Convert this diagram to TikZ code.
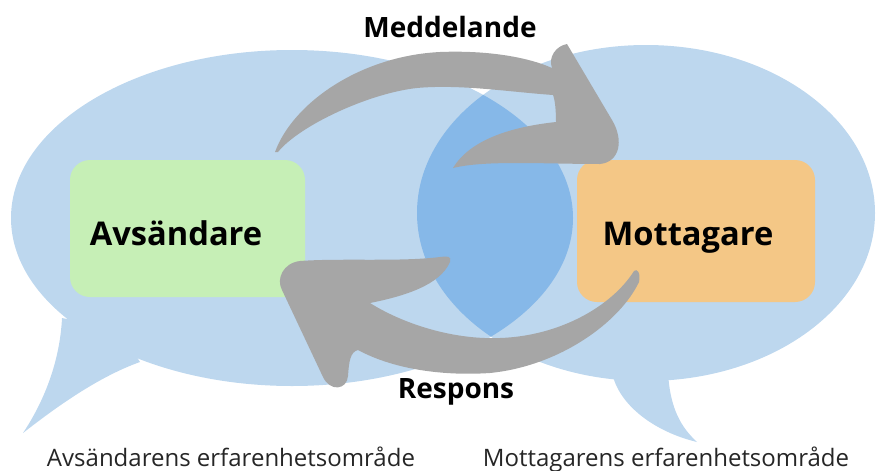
\documentclass[tikz,border=0pt]{standalone}
\usepackage{fontspec}
\setmainfont{Open Sans}
\definecolor{bubble}{HTML}{BDD7EE}
\definecolor{lensblue}{HTML}{86B8E8}
\definecolor{arrowgrey}{HTML}{A6A6A6}
\definecolor{boxgreen}{HTML}{C6EFB6}
\definecolor{boxorange}{HTML}{F4C786}
\tikzset{
  bigname/.style={font=\fontsize{24.5}{28}\selectfont\bfseries, inner sep=0pt, anchor=base, text=black},
  flowname/.style={font=\fontsize{21}{25}\selectfont\bfseries, inner sep=0pt, anchor=base, text=black},
  caption/.style={font=\fontsize{18}{22}\selectfont, inner sep=0pt, anchor=base, text=black!85},
}
\begin{document}
\begin{tikzpicture}[x=0.75pt,y=-0.75pt]
\useasboundingbox (0,0) rectangle (878,471);
% bubbles
\fill[bubble] (292,218) ellipse [x radius=210.75pt, y radius=126pt];
\fill[bubble] (646,213) ellipse [x radius=171.75pt, y radius=126pt];
\fill[bubble] (62,318) .. controls (60,360) and (45,400) .. (23,433)
  .. controls (50,412) and (95,378) .. (140,362) -- (120,330) -- cycle;
\fill[bubble] (612,372) .. controls (618,405) and (655,432) .. (697,442)
  .. controls (682,428) and (670,410) .. (668,372) -- cycle;
% overlap lens
\begin{scope}
  \clip (292,218) ellipse [x radius=210.75pt, y radius=126pt];
  \fill[lensblue] (646,213) ellipse [x radius=171.75pt, y radius=126pt];
\end{scope}
% boxes
\fill[boxgreen, rounded corners=15pt] (70,160) rectangle (305,297);
\fill[boxorange, rounded corners=15pt] (577,160) rectangle (815,302);
% top arrow (Meddelande)
\fill[arrowgrey] (275,152) .. controls (293,103) and (360,56) .. (440,52)
  .. controls (490,50) and (530,58) .. (552,68)
  .. controls (548,57) and (556,46) .. (567,44)
  -- (612,120) .. controls (624,140) and (620,162) .. (600,164)
  .. controls (545,164) and (485,160) .. (453,168)
  .. controls (470,140) and (510,127) .. (556,122)
  .. controls (556,110) and (555,100) .. (553,95)
  .. controls (510,92) and (460,84) .. (417,88)
  .. controls (370,93) and (300,125) .. (278,152) -- cycle;
% bottom arrow (Respons)
\fill[arrowgrey] (634,271) .. controls (612,306) and (560,336) .. (500,338)
  .. controls (450,340) and (400,322) .. (370,303)
  .. controls (405,296) and (440,285) .. (450,262)
  .. controls (452,256) and (447,256) .. (440,257)
  .. controls (400,262) and (340,258) .. (300,261)
  .. controls (283,263) and (276,279) .. (282,290)
  -- (323,377) .. controls (330,392) and (347,390) .. (348,376)
  .. controls (349,362) and (350,352) .. (358,350)
  .. controls (395,370) and (445,376) .. (490,373)
  .. controls (560,366) and (620,322) .. (639,282)
  .. controls (641,273) and (637,268) .. cycle;
% texts
\node[flowname] (msg) at (450,37) {Meddelande};
\node[flowname] (resp) at (456,398) {Respons};
\node[bigname] (snd) at (176,245) {Avsändare};
\node[bigname] (rcv) at (688,245) {Mottagare};
\node[caption] (sndcap) at (231,466) {Avsändarens erfarenhetsområde};
\node[caption] (rcvcap) at (666,466) {Mottagarens erfarenhetsområde};
\end{tikzpicture}
\end{document}
